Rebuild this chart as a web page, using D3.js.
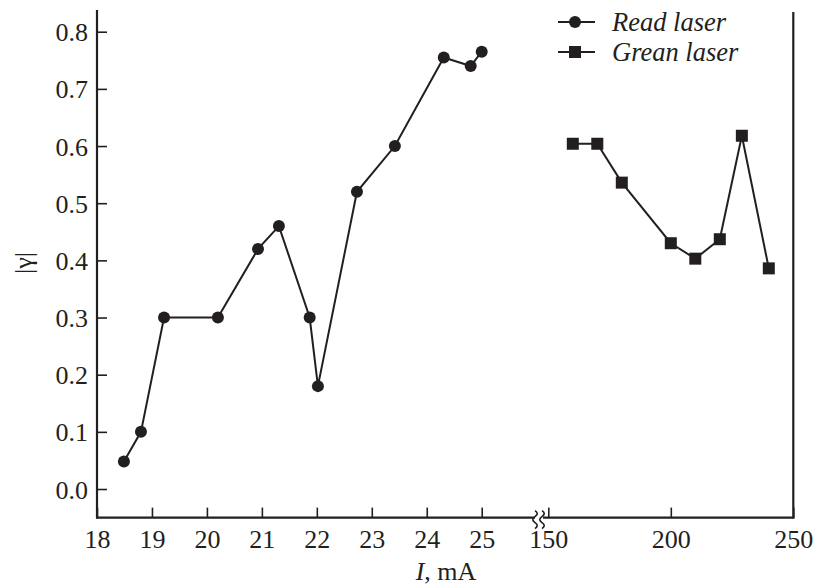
<!DOCTYPE html>
<html><head><meta charset="utf-8">
<script src="https://cdn.jsdelivr.net/npm/d3@7"></script>
<style>body{margin:0;background:#fff}svg{display:block}</style>
</head><body>
<svg id="c" width="817" height="588"></svg>
<script>
// Data
const redX = [18.49, 18.8, 19.22, 20.2, 20.93, 21.31, 21.87, 22.02, 22.73, 23.42, 24.31, 24.8, 25.02];
const redY = [0.048, 0.10, 0.30, 0.30, 0.42, 0.46, 0.30, 0.18, 0.52, 0.60, 0.755, 0.74, 0.765];
const greenX = [160, 170, 180, 200, 210, 220, 229, 240];
const greenY = [0.604, 0.604, 0.536, 0.430, 0.403, 0.437, 0.618, 0.386];
const xTicks = [18, 19, 20, 21, 22, 23, 24, 25, 150, 200, 250];
const yTicks = [0.0, 0.1, 0.2, 0.3, 0.4, 0.5, 0.6, 0.7, 0.8];
const seriesNames = ["Read laser", "Grean laser"];

const ink = "#231f20";
const FONT = "'Liberation Serif'";
const FS = 26;
const svg = d3.select("#c");
const x = d3.scaleLinear().domain([18, 25, 150, 250]).range([97, 481.7, 548.3, 793.3]);
const y = d3.scaleLinear().domain([-0.05, 0.838]).range([517.6, 10]);
const y0 = y(-0.05);

// y axis
const ya = svg.append("g").attr("transform", `translate(${x(18)},0)`)
  .call(d3.axisRight(y).tickValues(yTicks).tickSize(10).tickFormat(d3.format(".1f")));
ya.attr("font-family", FONT).attr("font-size", FS);
ya.select(".domain").remove();
ya.selectAll("line").attr("stroke", ink).attr("stroke-width", 1.6);
ya.selectAll("text").attr("x", -9).attr("text-anchor", "end").attr("dy", "0.35em")
  .attr("font-family", FONT).attr("font-size", FS).attr("fill", ink);

// x axis
const xa = svg.append("g").attr("transform", `translate(0,${y0})`)
  .call(d3.axisTop(x).tickValues(xTicks).tickSize(10).tickFormat(d3.format("d")));
xa.attr("font-family", FONT).attr("font-size", FS);
xa.select(".domain").remove();
xa.selectAll("line").attr("stroke", ink).attr("stroke-width", 1.6);
xa.selectAll("text").attr("y", 11.5).attr("dy", "0.71em")
  .attr("font-family", FONT).attr("font-size", FS).attr("fill", ink);

// frame lines
const fr = svg.append("g").attr("stroke", ink).attr("stroke-width", 2.2).attr("fill", "none");
fr.append("line").attr("x1", x(18)).attr("x2", x(18)).attr("y1", 10).attr("y2", y0 + 1);
fr.append("line").attr("x1", x(250)).attr("x2", x(250)).attr("y1", 12).attr("y2", y0 + 1);
fr.append("line").attr("x1", x(18) - 1).attr("x2", 535).attr("y1", y0).attr("y2", y0);
fr.append("line").attr("x1", 543).attr("x2", x(250) + 1).attr("y1", y0).attr("y2", y0);
// break symbol
[535, 542].forEach(bx => {
  fr.append("path").attr("stroke-width", 1.6)
    .attr("d", `M${bx},${y0 - 7} c3,2 3,4 0,6 c-3,2 -3,4 0,6 c3,2 3,4 0,6`);
});

// lines
const line = d3.line().x(d => x(d[0])).y(d => y(d[1]));
const red = redX.map((v, i) => [v, redY[i]]);
const green = greenX.map((v, i) => [v, greenY[i]]);
svg.append("path").datum(red).attr("d", line).attr("fill", "none").attr("stroke", ink).attr("stroke-width", 2);
svg.append("path").datum(green).attr("d", line).attr("fill", "none").attr("stroke", ink).attr("stroke-width", 2);
svg.selectAll("circle.r").data(red).enter().append("circle")
  .attr("cx", d => x(d[0])).attr("cy", d => y(d[1])).attr("r", 6).attr("fill", ink);
svg.selectAll("rect.g").data(green).enter().append("rect")
  .attr("x", d => x(d[0]) - 6).attr("y", d => y(d[1]) - 6).attr("width", 12).attr("height", 12).attr("fill", ink);

// legend
const lg = svg.append("g");
[22, 52].forEach((ly, i) => {
  lg.append("line").attr("x1", 558).attr("x2", 595).attr("y1", ly).attr("y2", ly).attr("stroke", ink).attr("stroke-width", 2);
  if (i === 0) lg.append("circle").attr("cx", 575).attr("cy", ly).attr("r", 6).attr("fill", ink);
  else lg.append("rect").attr("x", 569).attr("y", ly - 6).attr("width", 12).attr("height", 12).attr("fill", ink);
  lg.append("text").attr("x", 612).attr("y", ly).attr("dy", "0.35em").attr("font-family", FONT)
    .attr("font-size", 26.5).attr("font-style", "italic").attr("fill", ink).text(seriesNames[i]);
});

// axis titles
const xt = svg.append("text").attr("x", 446).attr("y", 580).attr("text-anchor", "middle")
  .attr("font-family", FONT).attr("font-size", FS).attr("fill", ink);
xt.append("tspan").attr("font-style", "italic").text("I");
xt.append("tspan").text(", mA");
svg.append("text").attr("transform", "translate(32,263) rotate(-90)").attr("text-anchor", "middle")
  .attr("font-family", FONT).attr("font-size", FS).attr("fill", ink).text("|γ|");
</script>
</body></html>
